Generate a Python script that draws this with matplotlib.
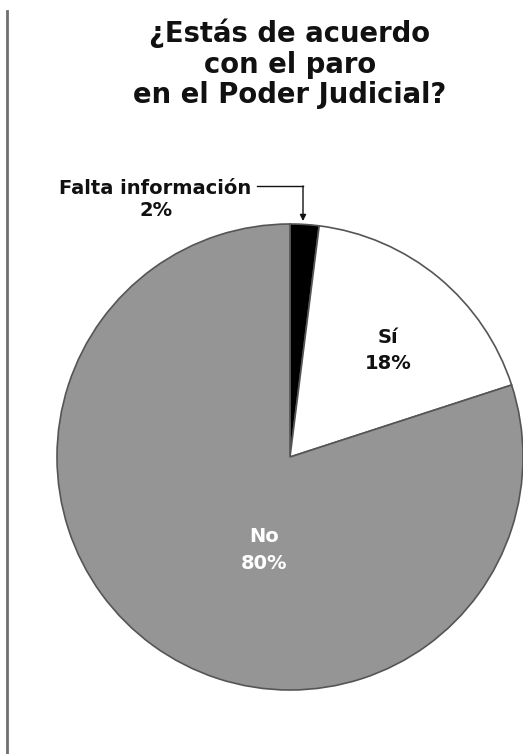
import matplotlib
matplotlib.use("Agg")
import matplotlib.pyplot as plt
from matplotlib.lines import Line2D

labels = ["Falta información", "Sí", "No"]
values = [2, 18, 80]
colors = ["#000000", "#ffffff", "#959595"]
title_lines = ["¿Estás de acuerdo", "con el paro", "en el Poder Judicial?"]

W, H = 523, 754
fig = plt.figure(figsize=(W / 100, H / 100), dpi=100)
fig.patch.set_facecolor("white")
ax = fig.add_axes([0, 0, 1, 1])
ax.set_xlim(0, W)
ax.set_ylim(0, H)
ax.set_aspect("equal")
ax.axis("off")

cx, cy, r = 290, H - 457, 233
ax.pie(values, colors=colors, startangle=90, counterclock=False,
       center=(cx, cy), radius=r, frame=True,
       wedgeprops=dict(edgecolor="#555555", linewidth=1.2))
ax.set_xlim(0, W)
ax.set_ylim(0, H)
ax.axis("off")

font = "DejaVu Sans"
ink = "#111111"
for line, base in zip(title_lines, [42, 73, 103]):
    ax.text(290, H - base, line, ha="center", va="baseline", fontsize=19.8,
            fontweight="bold", family=font, color=ink)

lab_fs = 14


def lab(x, base, s, c=ink):
    ax.text(x, H - base, s, ha="center", va="baseline", fontsize=lab_fs,
            fontweight="bold", family=font, color=c)


lab(155, 194, labels[0])
lab(156, 216, f"{values[0]}%")
lab(388, 343, labels[1])
lab(388, 369, f"{values[1]}%")
lab(264, 542, labels[2], "white")
lab(264, 569, f"{values[2]}%", "white")

# connector
ax.plot([257, 303], [H - 186, H - 186], color=ink, lw=1)
ax.annotate("", xy=(303, H - 221), xytext=(303, H - 186),
            arrowprops=dict(arrowstyle="-|>", color=ink, lw=1,
                            mutation_scale=9, shrinkA=0, shrinkB=0))

# left rule
fig.add_artist(Line2D([7 / W, 7 / W], [0, 1 - 11 / H], color="#6f6f6f",
                      lw=2, transform=fig.transFigure))

fig.savefig("out.png", dpi=100, facecolor="white")
